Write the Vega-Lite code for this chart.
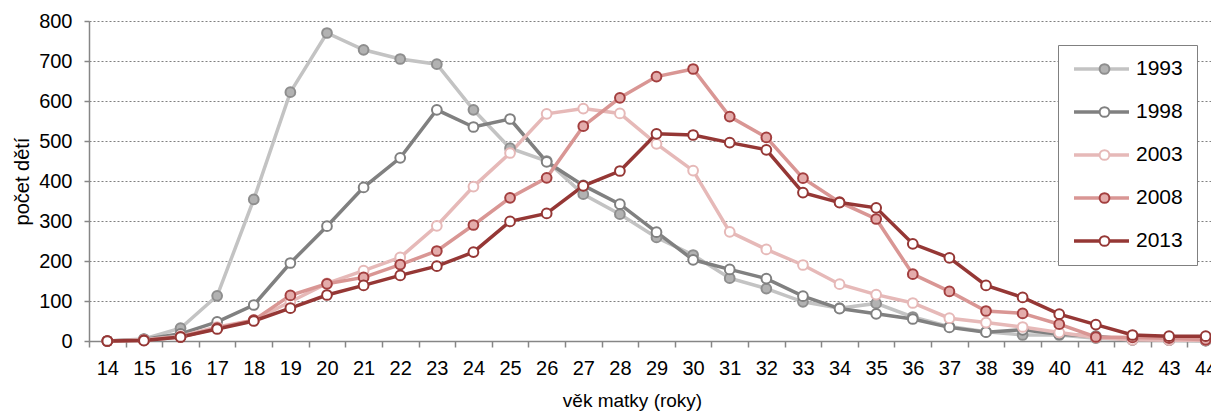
{
  "$schema": "https://vega.github.io/schema/vega-lite/v6.json",
  "width": 1135,
  "height": 320,
  "autosize": {"type": "none"},
  "padding": {"left": 89, "top": 21, "right": 0, "bottom": 70},
  "background": "white",
  "config": {"font": "Liberation Sans", "view": {"stroke": null}},
  "data": {"values": [
    {"age": 14, "1993": 0, "1998": 0, "2003": 0, "2008": 0, "2013": 0},
    {"age": 15, "1993": 5, "1998": 4, "2003": 3, "2008": 2, "2013": 1},
    {"age": 16, "1993": 32, "1998": 18, "2003": 12, "2008": 10, "2013": 10},
    {"age": 17, "1993": 113, "1998": 48, "2003": 35, "2008": 32, "2013": 30},
    {"age": 18, "1993": 354, "1998": 90, "2003": 52, "2008": 52, "2013": 50},
    {"age": 19, "1993": 622, "1998": 195, "2003": 98, "2008": 114, "2013": 82},
    {"age": 20, "1993": 770, "1998": 287, "2003": 144, "2008": 143, "2013": 115},
    {"age": 21, "1993": 728, "1998": 384, "2003": 176, "2008": 159, "2013": 139},
    {"age": 22, "1993": 705, "1998": 458, "2003": 209, "2008": 191, "2013": 164},
    {"age": 23, "1993": 692, "1998": 578, "2003": 288, "2008": 225, "2013": 187},
    {"age": 24, "1993": 578, "1998": 535, "2003": 386, "2008": 290, "2013": 222},
    {"age": 25, "1993": 482, "1998": 555, "2003": 470, "2008": 358, "2013": 299},
    {"age": 26, "1993": 450, "1998": 448, "2003": 568, "2008": 408, "2013": 319},
    {"age": 27, "1993": 367, "1998": 389, "2003": 581, "2008": 537, "2013": 388},
    {"age": 28, "1993": 317, "1998": 342, "2003": 569, "2008": 608, "2013": 425},
    {"age": 29, "1993": 259, "1998": 272, "2003": 493, "2008": 661, "2013": 518},
    {"age": 30, "1993": 215, "1998": 203, "2003": 426, "2008": 680, "2013": 515},
    {"age": 31, "1993": 157, "1998": 179, "2003": 273, "2008": 561, "2013": 496},
    {"age": 32, "1993": 131, "1998": 156, "2003": 229, "2008": 509, "2013": 478},
    {"age": 33, "1993": 98, "1998": 112, "2003": 190, "2008": 407, "2013": 371},
    {"age": 34, "1993": 82, "1998": 81, "2003": 142, "2008": 347, "2013": 346},
    {"age": 35, "1993": 94, "1998": 68, "2003": 116, "2008": 305, "2013": 333},
    {"age": 36, "1993": 60, "1998": 55, "2003": 95, "2008": 167, "2013": 243},
    {"age": 37, "1993": 36, "1998": 34, "2003": 57, "2008": 124, "2013": 208},
    {"age": 38, "1993": 23, "1998": 22, "2003": 46, "2008": 75, "2013": 139},
    {"age": 39, "1993": 15, "1998": 28, "2003": 35, "2008": 69, "2013": 109},
    {"age": 40, "1993": 15, "1998": 17, "2003": 21, "2008": 42, "2013": 67},
    {"age": 41, "1993": 7, "1998": 12, "2003": 9, "2008": 10, "2013": 41},
    {"age": 42, "1993": 3, "1998": 3, "2003": 3, "2008": 9, "2013": 15},
    {"age": 43, "1993": 2, "1998": 2, "2003": 2, "2008": 7, "2013": 12},
    {"age": 44, "1993": 1, "1998": 1, "2003": 2, "2008": 3, "2013": 12}
  ]},
  "transform": [{"fold": ["1993", "1998", "2003", "2008", "2013"], "as": ["year", "v"]}],
  "encoding": {
    "x": {
      "field": "age", "type": "ordinal",
      "scale": {"type": "band", "paddingInner": 0, "paddingOuter": 0},
      "axis": {
        "title": "věk matky (roky)", "tickBand": "extent", "labelAngle": 0, "grid": false,
        "domainColor": "#868686", "domainWidth": 1.5, "tickColor": "#868686", "tickSize": 6, "tickWidth": 1.5,
        "labelFontSize": 20, "labelColor": "#000", "labelPadding": 11,
        "titleFontSize": 19, "titleFontWeight": "normal", "titleColor": "#000", "titlePadding": 13, "titleX": 543
      }
    },
    "y": {
      "field": "v", "type": "quantitative",
      "scale": {"domain": [0, 800]},
      "axis": {
        "title": "počet dětí", "values": [0, 100, 200, 300, 400, 500, 600, 700, 800],
        "grid": true, "gridDash": [2, 2], "gridColor": "#808080", "gridWidth": 1.2,
        "domainColor": "#868686", "domainWidth": 1.5, "tickColor": "#868686", "tickSize": 5, "tickWidth": 1.5,
        "labelFontSize": 20, "labelColor": "#000", "labelPadding": 12,
        "titleFontSize": 20, "titleFontWeight": "normal", "titleColor": "#000", "titlePadding": 6
      }
    }
  },
  "layer": [
    {
      "mark": {"type": "line", "strokeWidth": 3.5},
      "encoding": {
        "color": {
          "field": "year", "type": "nominal",
          "scale": {"domain": ["1993", "1998", "2003", "2008", "2013"], "range": ["#c3c3c3", "#808080", "#e6b9b8", "#d99694", "#953735"]},
          "legend": {
            "title": null, "orient": "none", "legendX": 969, "legendY": 24,
            "symbolType": "stroke", "symbolSize": 3025, "symbolStrokeWidth": 3.5, "clipHeight": 20,
            "labelFontSize": 21, "labelColor": "#000", "labelOffset": 5, "rowPadding": 22, "padding": 14,
            "strokeColor": "#808080", "fillColor": "white"
          }
        }
      }
    },
    {
      "mark": {"type": "point", "shape": "circle", "size": 95, "strokeWidth": 2, "opacity": 1},
      "encoding": {
        "fill": {
          "field": "year", "type": "nominal",
          "scale": {"range": ["#b2b2b2", "#ffffff", "#ffffff", "#e4acab", "#ffffff"]},
          "legend": {
            "title": null, "orient": "none", "legendX": 991, "legendY": 24,
            "symbolType": "circle", "symbolSize": 95, "symbolStrokeWidth": 2, "symbolOpacity": 1, "clipHeight": 20,
            "labelFontSize": 21, "labelExpr": "''", "labelOffset": 5, "rowPadding": 22, "padding": 14
          }
        },
        "stroke": {
          "field": "year", "type": "nominal",
          "scale": {"range": ["#8e8e8e", "#808080", "#e6b9b8", "#a33f3f", "#953735"]},
          "legend": {
            "title": null, "orient": "none", "legendX": 991, "legendY": 24,
            "symbolType": "circle", "symbolSize": 95, "symbolStrokeWidth": 2, "symbolOpacity": 1, "clipHeight": 20,
            "labelFontSize": 21, "labelExpr": "''", "labelOffset": 5, "rowPadding": 22, "padding": 14
          }
        }
      }
    }
  ]
}
